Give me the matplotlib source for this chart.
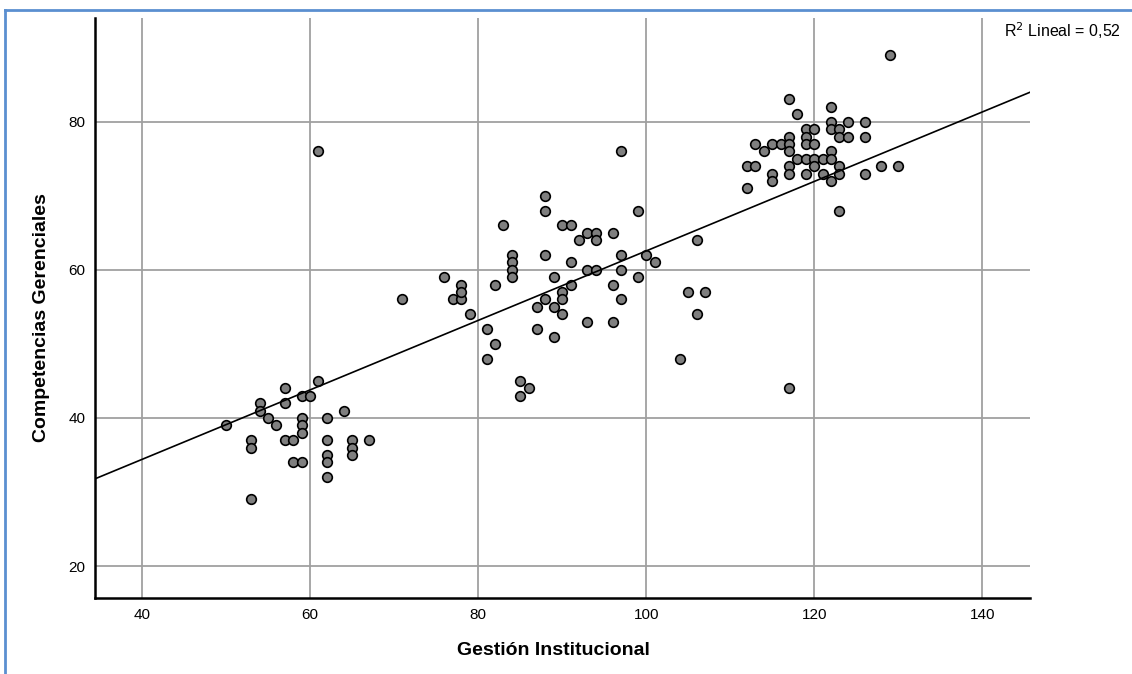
import numpy as np
import matplotlib.pyplot as plt
from matplotlib.lines import Line2D

plt.rcParams['font.family'] = ['Liberation Sans', 'DejaVu Sans']

# Gestión Institucional (x) / Competencias Gerenciales (y)
gestion_low = [50, 53, 53, 53, 54, 54, 55, 56, 57, 57, 57, 58, 58, 59, 59, 59, 59, 59,
               60, 61, 62, 62, 62, 62, 62, 64, 65, 65, 65, 67, 61]
compet_low = [39, 37, 36, 29, 42, 41, 40, 39, 44, 42, 37, 37, 34, 34, 43, 40, 39, 38,
              43, 45, 40, 37, 35, 34, 32, 41, 37, 36, 35, 37, 76]

gestion_mid = [71, 76, 77, 78, 78, 78, 79, 81, 81, 82, 82, 84, 84, 84, 84, 85, 86, 85,
               88, 89, 91, 91, 90, 90, 88, 87, 89, 90, 87, 89, 88, 88, 83, 90, 91, 92,
               93, 94, 94, 96, 97, 99, 93, 94, 97, 97, 96, 99, 97, 93, 96, 100, 101,
               106, 105, 107, 106, 104]
compet_mid = [56, 59, 56, 56, 58, 57, 54, 52, 48, 50, 58, 62, 61, 60, 59, 45, 44, 43,
              62, 59, 61, 58, 57, 56, 56, 55, 55, 54, 52, 51, 70, 68, 66, 66, 66, 64,
              65, 65, 64, 65, 76, 68, 60, 60, 62, 60, 58, 59, 56, 53, 53, 62, 61,
              64, 57, 57, 54, 48]

gestion_high = [129, 117, 118, 122, 122, 124, 126, 119, 120, 122, 123, 123, 124, 126,
                117, 119, 113, 115, 116, 117, 119, 120, 114, 117, 122, 118, 119, 120,
                121, 122, 112, 113, 117, 120, 123, 128, 130, 115, 115, 117, 119, 121,
                123, 126, 122, 112, 123, 117]
compet_high = [89, 83, 81, 82, 80, 80, 80, 79, 79, 79, 79, 78, 78, 78,
               78, 78, 77, 77, 77, 77, 77, 77, 76, 76, 76, 75, 75, 75,
               75, 75, 74, 74, 74, 74, 74, 74, 74, 73, 72, 73, 73, 73,
               73, 73, 72, 71, 68, 44]

# fit line as drawn in the chart (overlapping cases hide part of the data)
fit_intercept = 15.65
fit_slope = 0.469

x_ticks = [40, 60, 80, 100, 120, 140]
y_ticks = [20, 40, 60, 80]
r2_label = "0,52"

x = np.array(gestion_low + gestion_mid + gestion_high, dtype=float)
y = np.array(compet_low + compet_mid + compet_high, dtype=float)

fig = plt.figure(figsize=(11.32, 6.74), dpi=100)
ax = fig.add_axes([0.0839, 0.1128, 0.8261, 0.8605])

xmin, xmax = 34.4, 145.7
ax.set_xlim(xmin, xmax)
ax.set_ylim(15.7, 94.0)
ax.set_xticks(x_ticks)
ax.set_yticks(y_ticks)
ax.grid(True, color='#a0a0a0', linewidth=1.3, zorder=0)
ax.set_axisbelow(True)

ax.scatter(x, y, s=48, facecolor='#7f7f7f', edgecolor='black', linewidth=1.2, zorder=3)

xs = np.array([xmin, xmax])
ax.plot(xs, fit_intercept + fit_slope * xs, color='black', linewidth=1.2, zorder=4)

for side in ['top', 'right']:
    ax.spines[side].set_visible(False)
for side in ['left', 'bottom']:
    ax.spines[side].set_linewidth(1.8)
    ax.spines[side].set_color('black')
ax.tick_params(length=0, labelsize=11, pad=7)

ax.set_xlabel("Gestión Institucional", fontsize=14, fontweight='bold', va='center')
ax.xaxis.set_label_coords(0.49, -0.09)
ax.set_ylabel("Competencias Gerenciales", fontsize=14, fontweight='bold', va='center')
ax.yaxis.set_label_coords(-0.057, 0.483)

fig.text(0.887, 0.955, "R$^2$ Lineal = " + r2_label, fontsize=11.5, va='center', ha='left')

# screenshot frame (left and top edges)
fig.add_artist(Line2D([0.004, 0.004], [0.0, 0.985], transform=fig.transFigure,
                      color='#5b8fd0', linewidth=2))
fig.add_artist(Line2D([0.004, 1.0], [0.985, 0.985], transform=fig.transFigure,
                      color='#5b8fd0', linewidth=2))

fig.savefig("out.png", dpi=100, facecolor='white')
